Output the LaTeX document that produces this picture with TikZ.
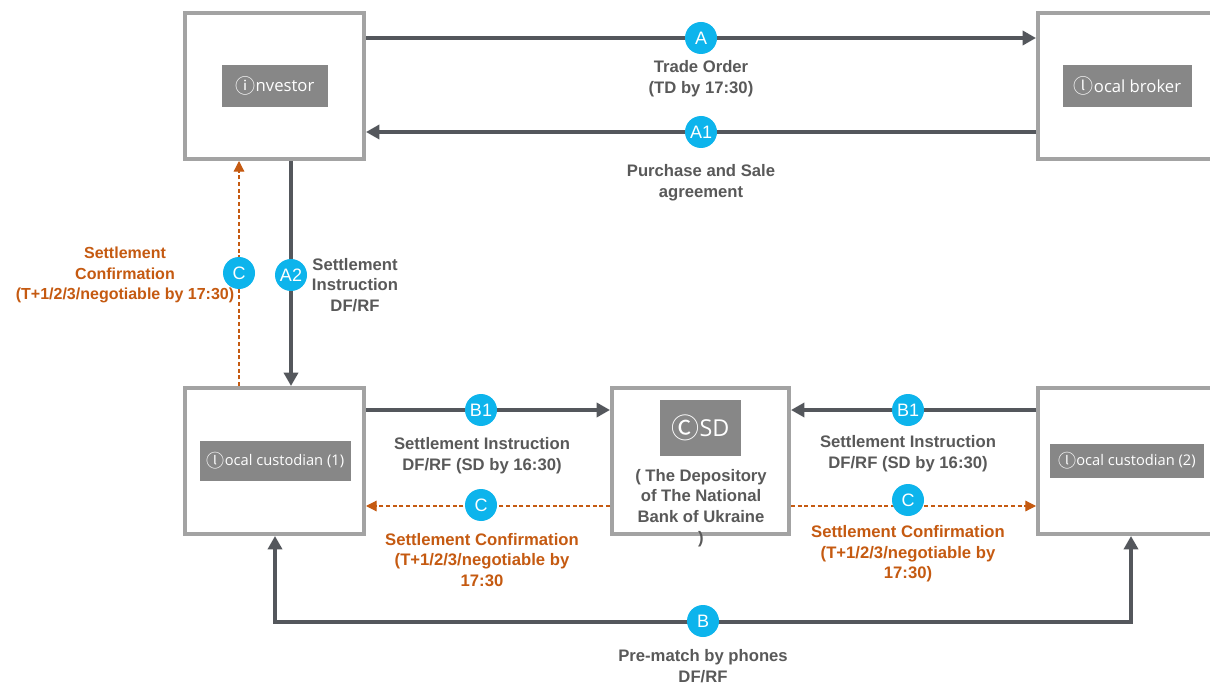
\documentclass[tikz,border=0pt]{standalone}
\usepackage{fontspec}
\setmainfont{Liberation Sans}
\newfontfamily\symf{Noto Sans CJK JP}
\newfontfamily\lblf{Open Sans}
\usetikzlibrary{arrows.meta,calc}
\definecolor{dk}{HTML}{54575C}
\definecolor{bx}{HTML}{A3A3A3}
\definecolor{lb}{HTML}{878787}
\definecolor{cy}{HTML}{0DB4EC}
\definecolor{og}{HTML}{C55A11}
\definecolor{tx}{HTML}{595959}
\newcommand{\circsym}[2]{\smash{\raisebox{-1.3pt}{\symf\fontsize{#1}{#1}\selectfont #2}}}
\begin{document}
\begin{tikzpicture}[x=0.75pt,y=-0.75pt,
  box/.style={draw=bx,line width=3pt,fill=white,minimum width=134.25pt,minimum height=109.5pt,inner sep=0pt},
  lbl/.style={fill=lb,text=white,inner sep=0pt,font=\lblf\fontsize{12.5}{14}\selectfont},
  badge/.style={circle,fill=cy,text=white,minimum size=24pt,inner sep=0pt,font=\fontsize{13.5}{14}\selectfont},
  darr/.style={draw=dk,line width=3pt,-{Triangle[length=10pt,width=10.5pt]}},
  oarr/.style={draw=og,line width=0.9pt,dash pattern=on 3pt off 2pt,-{Triangle[length=8pt,width=8pt]}},
  txt/.style={text=tx,font=\bfseries\fontsize{12.5}{15.5}\selectfont,align=center,inner sep=0pt},
  otxt/.style={text=og,font=\bfseries\fontsize{12.5}{15.5}\selectfont,align=center,inner sep=0pt}]
\clip (0,0) rectangle (1210,684);
\fill[white] (0,0) rectangle (1210,684);

% boxes
\node[box] (investor) at (274.5,86) {};
\node[box] (broker) at (1127.5,86) {};
\node[box] (cust1) at (274.5,461) {};
\node[box,minimum width=132.75pt] (csd) at (700.5,461) {};
\node[box] (cust2) at (1127.5,461) {};

% labels
\node[lbl,minimum width=79.5pt,minimum height=31.5pt] (linv) at (275,86) {{\circsym{15}{ⓘ}}nvestor};
\node[lbl,minimum width=96.75pt,minimum height=31.5pt] (lbro) at (1127.5,86) {{\circsym{15}{ⓛ}}ocal broker};
\node[lbl,minimum width=113.25pt,minimum height=30pt,font=\lblf\fontsize{11}{12}\selectfont] (lc1) at (275.5,461) {{\circsym{13.5}{ⓛ}}ocal custodian (1)};
\node[lbl,minimum width=60.75pt,minimum height=42pt,font=\lblf\fontsize{17.5}{18}\selectfont] (lcsd) at (700.5,428) {{\circsym{21}{Ⓒ}}SD};
\node[lbl,minimum width=115.5pt,minimum height=25.5pt,font=\lblf\fontsize{11}{12}\selectfont] (lc2) at (1127,461) {{\circsym{13.5}{ⓛ}}ocal custodian (2)};
\node[txt] (tcsd) at (701,508) {( The Depository\\of The National\\Bank of Ukraine\\)};

% helper coordinates
\coordinate (yA) at (0,38);
\coordinate (yA1) at (0,132);
\coordinate (yB1) at (0,410);
\coordinate (yC) at (0,506);
\coordinate (yB) at (0,622);
\coordinate (xA2) at (291,0);
\coordinate (xC1) at (239,0);
\coordinate (xBl) at (275,0);
\coordinate (xBr) at (1131,0);

% connectors
\draw[darr] (investor.east |- yA) -- (broker.west |- yA);
\draw[darr] (broker.west |- yA1) -- (investor.east |- yA1);
\draw[darr] (investor.south -| xA2) -- (cust1.north -| xA2);
\draw[oarr] (cust1.north -| xC1) -- (investor.south -| xC1);
\draw[darr] (cust1.east |- yB1) -- (csd.west |- yB1);
\draw[darr] (cust2.west |- yB1) -- (csd.east |- yB1);
\draw[oarr] (csd.west |- yC) -- (cust1.east |- yC);
\draw[oarr] (csd.east |- yC) -- (cust2.west |- yC);
\draw[darr,{Triangle[length=10pt,width=10.5pt]}-{Triangle[length=10pt,width=10.5pt]}]
  (cust1.south -| xBl) -- (xBl |- yB) -- (xBr |- yB) -- (cust2.south -| xBr);

% badges
\node[badge] (bA) at (701,38) {A};
\node[badge] (bA1) at (701,132) {A1};
\node[badge] (bA2) at (291,275) {A2};
\node[badge] (bC1) at (239,273) {C};
\node[badge] (bB1l) at (481,410) {B1};
\node[badge] (bCl) at (481,505) {C};
\node[badge] (bB1r) at (908,410) {B1};
\node[badge] (bCr) at (908,500) {C};
\node[badge] (bB) at (703,621) {B};

% texts
\node[txt] (tA) at (701,79) {Trade Order\\(TD by 17:30)};
\node[txt] (tA1) at (701,183) {Purchase and Sale\\agreement};
\node[txt] (tA2) at (355,285) {Settlement\\Instruction\\DF/RF};
\node[otxt,font=\bfseries\fontsize{12}{15.5}\selectfont] (tC1) at (125,275) {Settlement\\Confirmation\\(T+1/2/3/negotiable by 17:30)};
\node[txt] (tB1l) at (482,456) {Settlement Instruction\\DF/RF (SD by 16:30)};
\node[otxt] (tCl) at (482,560) {Settlement Confirmation\\(T+1/2/3/negotiable by\\17:30};
\node[txt] (tB1r) at (908,454) {Settlement Instruction\\DF/RF (SD by 16:30)};
\node[otxt] (tCr) at (908,554) {Settlement Confirmation\\(T+1/2/3/negotiable by\\17:30)};
\node[txt] (tB) at (703,666) {Pre-match by phones\\DF/RF};
\end{tikzpicture}
\end{document}
